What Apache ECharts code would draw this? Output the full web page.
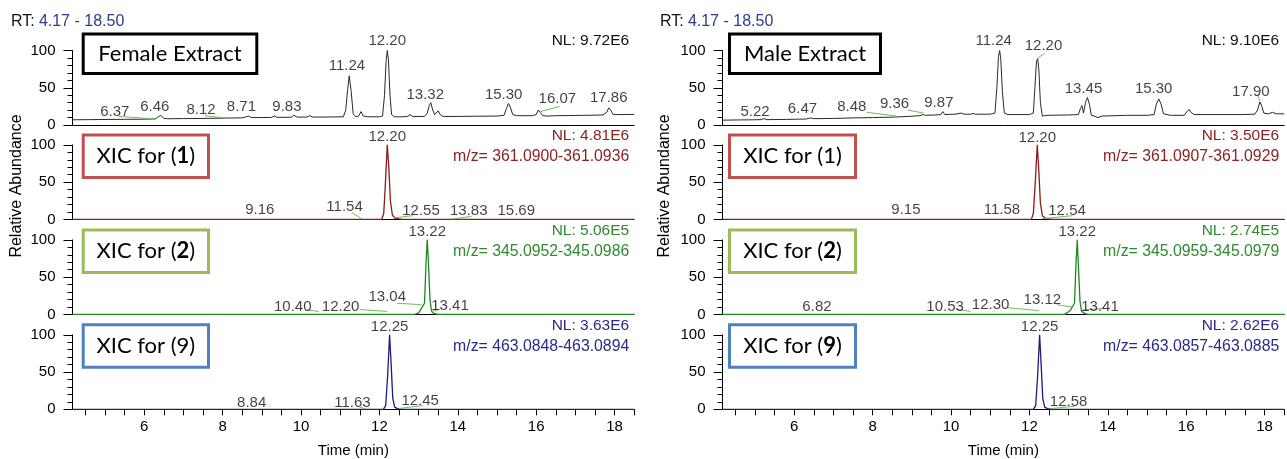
<!DOCTYPE html>
<html>
<head>
<meta charset="utf-8">
<title>XIC chromatograms</title>
<script src="https://cdn.jsdelivr.net/npm/echarts@6.0.0/dist/echarts.min.js"></script>
<style>
  html, body { margin: 0; padding: 0; background: #fff; }
  #chart { width: 1287px; height: 459px; }
</style>
</head>
<body>
<div id="chart"></div>
<script>
// axis ticks
var xTickValues = [4.5, 5, 5.5, 6, 6.5, 7, 7.5, 8, 8.5, 9, 9.5, 10, 10.5, 11, 11.5, 12, 12.5, 13, 13.5, 14, 14.5, 15, 15.5, 16, 16.5, 17, 17.5, 18, 18.5]
var xLabelValues = [6, 8, 10, 12, 14, 16, 18]

// female extract traces [time, relative abundance]
var femaleTic = [[4.17, 7], [4.6, 7.2], [5.0, 7.4], [5.5, 7.6], [6.0, 7.8], [6.28, 8.2], [6.36, 11], [6.42, 13], [6.5, 9], [6.6, 8.4],
  [7.0, 8.6], [7.5, 8.8], [8.0, 9.2], [8.5, 9.6], [8.6, 11], [8.66, 12], [8.74, 10], [9.0, 10], [9.25, 10.2], [9.32, 12], [9.4, 10.2],
  [9.75, 10.4], [9.82, 13], [9.9, 10.6], [10.15, 10.6], [10.22, 12.5], [10.3, 10.6], [10.8, 10.8], [11.08, 11], [11.14, 20], [11.19, 48],
  [11.23, 66], [11.28, 45], [11.33, 15], [11.4, 11], [11.47, 12], [11.53, 18], [11.59, 12], [11.7, 11], [12.0, 11], [12.08, 12], [12.13, 40],
  [12.17, 85], [12.2, 100], [12.23, 88], [12.27, 40], [12.31, 14], [12.38, 11], [12.6, 11], [12.72, 11.5], [12.78, 14], [12.85, 11.5],
  [13.15, 11.5], [13.22, 16], [13.27, 26], [13.31, 30], [13.36, 20], [13.41, 14], [13.46, 16], [13.5, 19], [13.55, 14], [13.62, 11.5],
  [14.0, 11.5], [14.5, 11.8], [15.0, 12], [15.18, 13], [15.24, 22], [15.29, 29], [15.34, 24], [15.4, 14], [15.5, 12.5], [15.9, 12.5],
  [16.0, 14], [16.05, 20], [16.1, 17], [16.17, 12.5], [16.3, 12], [16.5, 12.5], [17.0, 12.8], [17.5, 13.2], [17.7, 13.5], [17.8, 17],
  [17.85, 23], [17.9, 20], [17.96, 14], [18.1, 14], [18.5, 14.2]]
var femaleXic1 = [[4.17, 0], [8.98, 0], [9.02, 1.2], [9.06, 0], [9.13, 0], [9.16, 1.5], [9.2, 0], [9.27, 0], [9.3, 1.2], [9.34, 0],
  [11.5, 0], [11.54, 1.5], [11.58, 0], [12.06, 0], [12.11, 8], [12.15, 45], [12.2, 100], [12.24, 70], [12.28, 25], [12.33, 6],
  [12.4, 1.5], [12.55, 0.5], [12.7, 0], [18.5, 0]]
var femaleXic2 = [[4.17, 0], [12.9, 0], [13.0, 2], [13.05, 6], [13.1, 4], [13.15, 15], [13.19, 70], [13.22, 100], [13.25, 70],
  [13.29, 20], [13.33, 4], [13.4, 1], [13.5, 0], [18.5, 0]]
var femaleXic9 = [[4.17, 0], [12.1, 0], [12.16, 5], [12.21, 45], [12.26, 100], [12.3, 60], [12.34, 15], [12.39, 3], [12.46, 1],
  [12.6, 0], [18.5, 0]]

// male extract traces
var maleTic = [[4.17, 6.5], [4.6, 6.8], [5.0, 7], [5.15, 7.2], [5.22, 8.5], [5.3, 7.2], [5.8, 7.5], [6.3, 8], [6.42, 9.5], [6.5, 8.5],
  [7.0, 8.8], [7.5, 9.5], [8.0, 10], [8.5, 10.5], [8.9, 11.5], [9.2, 12.5], [9.28, 14], [9.35, 13], [9.6, 13.5], [9.74, 14], [9.79, 18],
  [9.84, 14], [10.1, 14.5], [10.27, 16], [10.33, 14.5], [10.5, 14.5], [10.56, 15.5], [10.62, 14.5], [11.0, 14.5], [11.12, 16],
  [11.17, 50], [11.21, 92], [11.24, 100], [11.27, 88], [11.31, 45], [11.36, 16], [11.45, 14], [12.0, 14], [12.1, 16], [12.14, 50],
  [12.18, 85], [12.21, 89], [12.24, 75], [12.28, 30], [12.33, 12], [12.38, 10], [12.45, 13], [13.0, 13.5], [13.25, 14], [13.3, 22],
  [13.34, 26], [13.38, 16], [13.43, 30], [13.48, 37], [13.53, 28], [13.58, 13], [13.65, 12], [13.75, 10], [13.85, 12], [14.5, 13],
  [15.0, 13], [15.18, 14], [15.24, 28], [15.3, 35], [15.36, 28], [15.42, 15], [15.6, 13], [15.95, 13], [16.02, 18], [16.07, 21],
  [16.12, 17], [16.2, 14], [16.8, 14], [17.4, 14], [17.75, 14.5], [17.82, 20], [17.88, 31], [17.93, 25], [17.98, 16], [18.1, 15],
  [18.2, 17], [18.3, 15], [18.5, 15]]
var maleXic1 = [[4.17, 0], [8.7, 0], [8.74, 1.2], [8.78, 0], [9.05, 0], [9.09, 1.2], [9.13, 0], [9.33, 0], [9.37, 1.2], [9.41, 0],
  [11.5, 0], [11.54, 1.5], [11.58, 0], [12.05, 0], [12.1, 8], [12.15, 50], [12.2, 100], [12.24, 65], [12.28, 22], [12.33, 5],
  [12.42, 1], [12.6, 0], [18.5, 0]]
var maleXic2 = [[4.17, 0], [12.9, 0], [12.98, 3], [13.05, 6], [13.1, 5], [13.15, 15], [13.19, 70], [13.22, 100], [13.25, 65],
  [13.29, 18], [13.33, 4], [13.42, 1], [13.5, 0], [18.5, 0]]
var maleXic9 = [[4.17, 0], [12.1, 0], [12.16, 5], [12.21, 45], [12.26, 100], [12.3, 60], [12.34, 15], [12.39, 3], [12.46, 1],
  [12.6, 0], [18.5, 0]]

// peak labels [time, height, text]
var femaleTicLabels = [[5.25, 18, '6.37'], [6.27, 24.5, '6.46'], [7.45, 20, '8.12'], [8.48, 24.5, '8.71'], [9.64, 24.5, '9.83'],
  [11.17, 79, '11.24'], [12.2, 113, '12.20'], [13.17, 41, '13.32'], [15.17, 40, '15.30'], [16.54, 34.5, '16.07'], [17.85, 37, '17.86']]
var femaleXic1Labels = [[8.95, 12.5, '9.16'], [11.11, 17, '11.54'], [12.2, 111, '12.20'], [13.06, 11, '12.55'], [14.28, 11, '13.83'],
  [15.49, 11, '15.69']]
var femaleXic2Labels = [[9.79, 9.5, '10.40'], [11.01, 9.5, '12.20'], [12.2, 23, '13.04'], [13.22, 111, '13.22'], [13.8, 11, '13.41']]
var femaleXic9Labels = [[8.74, 9.3, '8.84'], [11.31, 9.3, '11.63'], [12.26, 110, '12.25'], [13.04, 11, '12.45']]
var maleTicLabels = [[5.0, 18, '5.22'], [6.21, 22, '6.47'], [7.47, 24, '8.48'], [8.56, 28, '9.36'], [9.69, 30, '9.87'],
  [11.09, 113, '11.24'], [12.36, 106, '12.20'], [13.38, 48, '13.45'], [15.17, 48, '15.30'], [17.65, 45, '17.90']]
var maleXic1Labels = [[8.85, 12.5, '9.15'], [11.3, 12.5, '11.58'], [12.2, 110, '12.20'], [12.96, 11, '12.54']]
var maleXic2Labels = [[6.58, 9.5, '6.82'], [9.85, 9.5, '10.53'], [11.01, 12.5, '12.30'], [12.33, 19.5, '13.12'], [13.22, 111, '13.22'],
  [13.8, 9.5, '13.41']]
var maleXic9Labels = [[12.26, 110, '12.25'], [13.0, 9.5, '12.58']]

// green leader lines from a moved label to its peak
var femaleTicLeaders = [[[5.35, 11.5], [6.31, 8]], [[7.55, 12.5], [8.1, 9.2]], [[16.1, 18], [16.6, 25]]]
var femaleXic1Leaders = [[[11.3, 9], [11.53, 1.5]], [[12.35, 2], [12.85, 5]], [[13.85, 0.5], [14.35, 4]]]
var femaleXic2Leaders = [[[10.15, 6], [10.45, 4]], [[11.5, 6.5], [12.2, 4]], [[12.45, 15], [13.07, 13]], [[13.33, 4], [13.55, 7]]]
var femaleXic9Leaders = [[[11.5, 3], [11.63, 0.5]], [[12.5, 1], [13.1, 5]]]
var maleTicLeaders = [[[7.85, 17], [8.6, 12]], [[8.9, 20], [9.3, 16]], [[12.22, 90], [12.38, 96]], [[17.82, 40], [17.88, 32]]]
var maleXic1Leaders = [[[12.33, 1], [13.1, 5]]]
var maleXic2Leaders = [[[10.15, 7], [10.5, 4]], [[11.45, 9], [12.25, 5]], [[12.7, 13], [13.1, 10]], [[13.35, 6], [13.9, 8]]]
var maleXic9Leaders = [[[12.55, 1], [13.15, 4]]]

var FONT = '"Liberation Sans", Arial, sans-serif'
var BOX_FONT = 'Lato, "Open Sans", sans-serif'
var GREEN_LEADER = '#6cbf5a'

var gridWidth = 561.7
var gridHeight = 74.5
var bottoms = [125, 219.4, 314.4, 409.3]

var panels = [
  {
    left: 72.5, rtX: 11, nameX: 17, boxX: 83.2,
    traces: [
      { data: femaleTic, labels: femaleTicLabels, leaders: femaleTicLeaders, color: '#2a2a2a', width: 1,
        nl: 'NL: 9.72E6', textColor: '#111', title: 'Female Extract', boxW: 173.6, boxColor: '#000' },
      { data: femaleXic1, labels: femaleXic1Labels, leaders: femaleXic1Leaders, color: '#8b1c1c', width: 1.3,
        nl: 'NL: 4.81E6', mz: 'm/z= 361.0900-361.0936', textColor: '#8b2323', tag: '1', bold: true, boxW: 125.3, boxColor: '#c0504d' },
      { data: femaleXic2, labels: femaleXic2Labels, leaders: femaleXic2Leaders, color: '#1f8a1f', width: 1.3,
        nl: 'NL: 5.06E5', mz: 'm/z= 345.0952-345.0986', textColor: '#2e8b2e', tag: '2', bold: true, boxW: 125.3, boxColor: '#9bbb59' },
      { data: femaleXic9, labels: femaleXic9Labels, leaders: femaleXic9Leaders, color: '#1c1c7a', width: 1.3,
        nl: 'NL: 3.63E6', mz: 'm/z= 463.0848-463.0894', textColor: '#2a2a8a', tag: '9', bold: false, boxW: 125.3, boxColor: '#4f81bd' }
    ]
  },
  {
    left: 722.5, rtX: 660, nameX: 665, boxX: 729.5,
    traces: [
      { data: maleTic, labels: maleTicLabels, leaders: maleTicLeaders, color: '#2a2a2a', width: 1,
        nl: 'NL: 9.10E6', textColor: '#111', title: 'Male Extract', boxW: 151, boxColor: '#000' },
      { data: maleXic1, labels: maleXic1Labels, leaders: maleXic1Leaders, color: '#8b1c1c', width: 1.3,
        nl: 'NL: 3.50E6', mz: 'm/z= 361.0907-361.0929', textColor: '#8b2323', tag: '1', bold: false, boxW: 126, boxColor: '#c0504d' },
      { data: maleXic2, labels: maleXic2Labels, leaders: maleXic2Leaders, color: '#1f8a1f', width: 1.3,
        nl: 'NL: 2.74E5', mz: 'm/z= 345.0959-345.0979', textColor: '#2e8b2e', tag: '2', bold: true, boxW: 126, boxColor: '#9bbb59' },
      { data: maleXic9, labels: maleXic9Labels, leaders: maleXic9Leaders, color: '#1c1c7a', width: 1.3,
        nl: 'NL: 2.62E6', mz: 'm/z= 463.0857-463.0885', textColor: '#2a2a8a', tag: '9', bold: true, boxW: 126, boxColor: '#4f81bd' }
    ]
  }
]

function textEl(x, y, text, opts) {
  opts = opts || {}
  return {
    type: 'text', x: x, y: y, rotation: opts.rotation || 0, silent: true, z: 100,
    style: {
      text: text,
      fill: opts.fill || '#000',
      fontSize: opts.fontSize || 15,
      fontFamily: opts.fontFamily || FONT,
      fontWeight: opts.fontWeight || 'normal',
      align: opts.align || 'left', textAlign: opts.align || 'left',
      verticalAlign: 'middle', textVerticalAlign: 'middle',
      rich: opts.rich
    }
  }
}

var grids = []
var xAxes = []
var yAxes = []
var series = []
var graphics = []

panels.forEach(function(p) {
  graphics.push(textEl(p.rtX, 22, '{a|RT:} {b|4.17 - 18.50}', {
    rich: {
      a: { fill: '#111', fontSize: 16, fontFamily: FONT },
      b: { fill: '#2a3b8f', fontSize: 16, fontFamily: FONT }
    }
  }))
  graphics.push(textEl(p.nameX, 186, 'Relative Abundance', { rotation: Math.PI / 2, align: 'center', fontSize: 16 }))

  p.traces.forEach(function(t, ti) {
    var idx = grids.length
    var last = ti === p.traces.length - 1
    var bottom = bottoms[ti]
    grids.push({ left: p.left, top: bottom - gridHeight, width: gridWidth, height: gridHeight, outerBoundsMode: 'none' })
    xAxes.push({
      gridIndex: idx, type: 'value', min: 4.17, max: 18.5,
      axisLine: { show: true, onZero: false, lineStyle: { color: '#000', width: 1 } },
      axisTick: { show: last, length: 6, customValues: xTickValues, lineStyle: { color: '#000' } },
      axisLabel: { show: last, customValues: xLabelValues, margin: 10, fontSize: 15, color: '#000', fontFamily: FONT },
      splitLine: { show: false },
      name: last ? 'Time (min)' : '', nameLocation: 'middle', nameGap: 34,
      nameTextStyle: { fontSize: 15, color: '#000', fontFamily: FONT }
    })
    yAxes.push({
      gridIndex: idx, type: 'value', min: 0, max: 100, interval: 50,
      axisLine: { show: true, lineStyle: { color: '#000', width: 1 } },
      axisTick: { show: true, length: 9, lineStyle: { color: '#000' } },
      minorTick: { show: true, splitNumber: 5, length: 5, lineStyle: { color: '#000' } },
      axisLabel: { fontSize: 15, color: '#000', margin: 17, fontFamily: FONT },
      splitLine: { show: false }
    })
    series.push({
      type: 'line', xAxisIndex: idx, yAxisIndex: idx, data: t.data, symbol: 'none', clip: false,
      lineStyle: { color: t.color, width: t.width }, itemStyle: { color: t.color }, animation: false, z: 3
    })
    series.push({
      type: 'scatter', xAxisIndex: idx, yAxisIndex: idx, data: t.labels, symbolSize: 1, clip: false, silent: true,
      itemStyle: { color: 'rgba(0,0,0,0)' }, animation: false, z: 5,
      label: {
        show: true, position: 'inside', color: '#111', fontSize: 15, fontFamily: FONT,
        formatter: function(d) { return d.data[2] }
      }
    })
    series.push({
      type: 'lines', coordinateSystem: 'cartesian2d', xAxisIndex: idx, yAxisIndex: idx, silent: true, animation: false, z: 4,
      data: t.leaders.map(function(c) { return { coords: c } }),
      lineStyle: { color: GREEN_LEADER, width: 1, opacity: 1, curveness: 0 }
    })

    // NL and m/z range in the upper right corner
    var right = p.left + gridWidth - 5
    graphics.push(textEl(right, bottom - 84, t.nl, { align: 'right', fill: t.textColor, fontSize: 15.5 }))
    if (t.mz) graphics.push(textEl(right, bottom - 63, t.mz, { align: 'right', fill: t.textColor, fontSize: 15.8 }))

    // framed caption
    var boxTop = t.title ? bottom - 91 : bottom - 84.5
    var boxH = t.title ? 39.5 : 42.5
    graphics.push({
      type: 'rect', silent: true, z: 90,
      shape: { x: p.boxX, y: boxTop, width: t.boxW, height: boxH },
      style: { fill: '#fff', stroke: t.boxColor, lineWidth: 3 }
    })
    var cx = p.boxX + t.boxW / 2
    var cy = boxTop + boxH / 2
    if (t.title) {
      graphics.push(textEl(cx, cy, t.title, { align: 'center', fontSize: 22, fontFamily: BOX_FONT }))
    } else {
      graphics.push(textEl(cx, cy, '{n|XIC for (}{b|' + t.tag + '}{n|)}', {
        align: 'center', fontSize: 22, fontFamily: BOX_FONT,
        rich: {
          n: { fill: '#000', fontSize: 22, fontFamily: BOX_FONT },
          b: { fill: '#000', fontSize: 22, fontFamily: BOX_FONT, fontWeight: t.bold ? 'bold' : 'normal' }
        }
      }))
    }
  })
})

var chart = echarts.init(document.getElementById('chart'))
chart.setOption({
  animation: false,
  backgroundColor: '#fff',
  textStyle: { fontFamily: FONT },
  grid: grids,
  xAxis: xAxes,
  yAxis: yAxes,
  series: series,
  graphic: { elements: graphics }
})
</script>
</body>
</html>
